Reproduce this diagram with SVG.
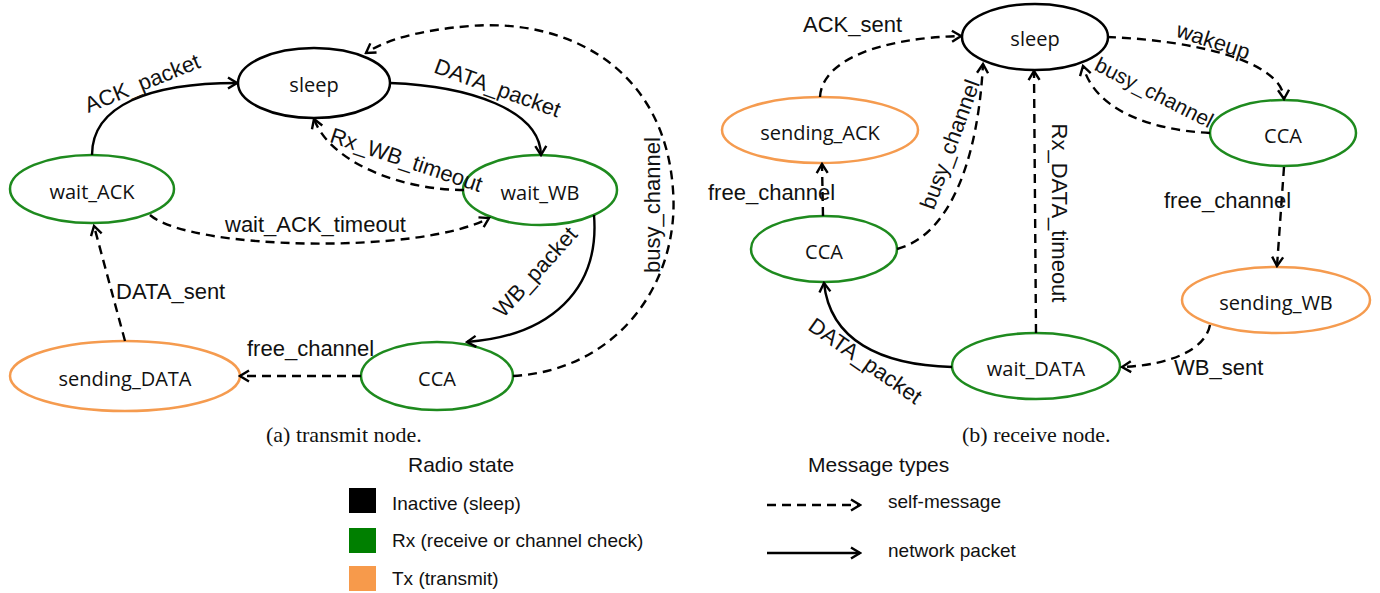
<svg xmlns="http://www.w3.org/2000/svg" width="1380" height="593" viewBox="0 0 1380 593">
<style>
.n{fill:none;stroke-width:2.5}
.blk{stroke:#000}
.grn{stroke:#1E8A1E}
.org{stroke:#F59B4F}
.nl{font-family:"Open Sans","Liberation Sans",sans-serif;font-size:20px;fill:#111;text-anchor:middle}
.el{font-family:"Liberation Sans",Arial,sans-serif;font-size:22px;fill:#111}
.c{text-anchor:middle}
.sol{fill:none;stroke:#000;stroke-width:2.4;marker-end:url(#arr)}
.dsh{fill:none;stroke:#000;stroke-width:2.4;stroke-dasharray:9 6;marker-end:url(#arr)}
.cap{font-family:"Liberation Serif","Times New Roman",serif;font-size:22px;fill:#111}
.lg{font-family:"Liberation Sans",Arial,sans-serif;font-size:19px;fill:#111}
.lh{font-family:"Liberation Sans",Arial,sans-serif;font-size:21px;fill:#111}
</style>
<defs>
<marker id="arr" markerUnits="userSpaceOnUse" markerWidth="14" markerHeight="14" viewBox="0 0 14 14" refX="12" refY="7" orient="auto">
<path d="M3,1.5 L12,7 L3,12.5" fill="none" stroke="#000" stroke-width="2.4" stroke-dasharray="none"/>
</marker>
</defs>
<rect width="1380" height="593" fill="#fff"/>

<!-- Left panel nodes -->
<g id="L_sleep"><ellipse class="n blk" cx="314" cy="83" rx="76" ry="35"/><text class="nl" x="314" y="92">sleep</text></g>
<g id="L_wait_ACK"><ellipse class="n grn" cx="92" cy="189" rx="82" ry="34"/><text class="nl" x="92" y="199">wait_ACK</text></g>
<g id="L_wait_WB"><ellipse class="n grn" cx="540" cy="190" rx="77" ry="35"/><text class="nl" x="540" y="200">wait_WB</text></g>
<g id="L_CCA"><ellipse class="n grn" cx="437" cy="376" rx="76" ry="34"/><text class="nl" x="437" y="386">CCA</text></g>
<g id="L_sending_DATA"><ellipse class="n org" cx="125" cy="376" rx="115" ry="35"/><text class="nl" x="125" y="386">sending_DATA</text></g>

<!-- Right panel nodes -->
<g id="R_sleep"><ellipse class="n blk" cx="1035" cy="37" rx="73" ry="33"/><text class="nl" x="1035" y="46">sleep</text></g>
<g id="R_sending_ACK"><ellipse class="n org" cx="820" cy="130" rx="98" ry="33"/><text class="nl" x="820" y="140">sending_ACK</text></g>
<g id="R_CCA1"><ellipse class="n grn" cx="824" cy="249" rx="73" ry="33"/><text class="nl" x="824" y="259">CCA</text></g>
<g id="R_wait_DATA"><ellipse class="n grn" cx="1036" cy="366" rx="84" ry="33"/><text class="nl" x="1036" y="376">wait_DATA</text></g>
<g id="R_CCA2"><ellipse class="n grn" cx="1283" cy="133" rx="73" ry="33"/><text class="nl" x="1283" y="143">CCA</text></g>
<g id="R_sending_WB"><ellipse class="n org" cx="1276" cy="300" rx="94" ry="33"/><text class="nl" x="1276" y="310">sending_WB</text></g>

<g id="connectors">
<!-- left -->
<path class="sol" d="M92,155 C92,105 150,83 237,83"/>
<text class="el c" transform="translate(145,90) rotate(-22)">ACK_packet</text>
<path class="sol" d="M390,83 C470,86 540,110 541,155"/>
<text class="el c" transform="translate(495,95) rotate(20)">DATA_packet</text>
<path class="dsh" d="M464,190 C400,190 330,162 314,119"/>
<text class="el c" transform="translate(404,167) rotate(18.5)">Rx_WB_timeout</text>
<path class="dsh" d="M150,215 C190,250 420,255 489,218"/>
<text class="el" x="225" y="232">wait_ACK_timeout</text>
<path class="dsh" d="M513,376 C620,370 680,280 673,190 C665,70 570,18 470,26 C420,30 385,40 366,53"/>
<text class="el c" transform="translate(660,205) rotate(-90)">busy_channel</text>
<path class="sol" d="M594,215 C600,290 550,336 467,342"/>
<text class="el c" transform="translate(541,277) rotate(-48)">WB_packet</text>
<path class="dsh" d="M361,376 L240,376"/>
<text class="el" x="247" y="356">free_channel</text>
<path class="dsh" d="M125,341 L94,226"/>
<text class="el" x="116" y="299">DATA_sent</text>

<!-- right -->
<path class="dsh" d="M820,97 C822,60 880,38 961,36"/>
<text class="el" x="803" y="32">ACK_sent</text>
<path class="dsh" d="M823,216 L822,164"/>
<text class="el" x="708" y="200">free_channel</text>
<path class="dsh" d="M897,249 C950,235 978,160 983,64"/>
<text class="el c" transform="translate(957,147) rotate(-70)">busy_channel</text>
<path class="dsh" d="M1036,333 L1034,71"/>
<text class="el c" transform="translate(1052,213) rotate(90)">Rx_DATA_timeout</text>
<path class="sol" d="M952,367 C880,365 830,340 824,283"/>
<text class="el c" transform="translate(861,367) rotate(35)">DATA_packet</text>
<path class="dsh" d="M1107,37 C1190,40 1282,60 1284,99"/>
<text class="el c" transform="translate(1211,48) rotate(18)">wakeup</text>
<path class="dsh" d="M1210,133 C1150,130 1095,110 1083,66"/>
<text class="el c" style="font-size:21px" transform="translate(1151,99) rotate(27)">busy_channel</text>
<path class="dsh" d="M1284,167 L1277,266"/>
<text class="el" x="1164" y="208">free_channel</text>
<path class="dsh" d="M1210,325 C1205,350 1170,365 1122,367"/>
<text class="el" x="1174" y="375">WB_sent</text>
</g>

<!-- captions -->
<text class="cap" x="266" y="442">(a) transmit node.</text>
<text class="cap" x="962" y="442">(b) receive node.</text>

<!-- legend -->
<g id="legend_radio">
<text class="lh" x="408" y="472">Radio state</text>
<rect x="349" y="488" width="27" height="25" fill="#000"/>
<text class="lg" x="392" y="510">Inactive (sleep)</text>
<rect x="349" y="528" width="27" height="25" fill="#007F00"/>
<text class="lg" x="392" y="547">Rx (receive or channel check)</text>
<rect x="349" y="566" width="27" height="25" fill="#F79A4B"/>
<text class="lg" x="392" y="585">Tx (transmit)</text>
</g>
<g id="legend_msg">
<text class="lh" x="808" y="472">Message types</text>
<path class="dsh" d="M767,505 L860,505"/>
<text class="lg" x="888" y="508">self-message</text>
<path class="sol" d="M767,553 L860,553"/>
<text class="lg" x="888" y="557">network packet</text>
</g>
</svg>
